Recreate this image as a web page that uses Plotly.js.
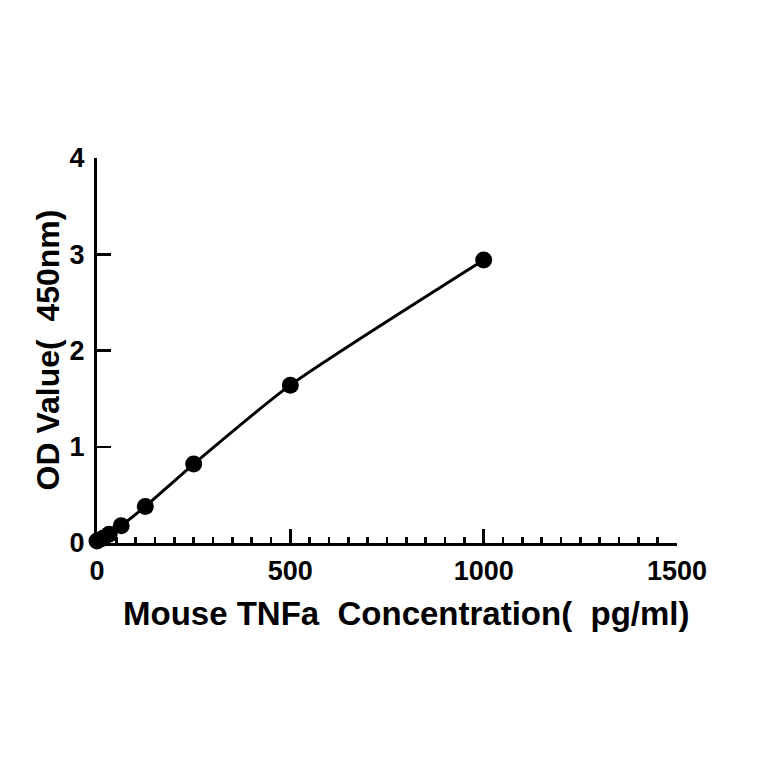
<!DOCTYPE html>
<html>
<head>
<meta charset="utf-8">
<script src="https://cdn.plot.ly/plotly-3.0.1.min.js"></script>
<style>html,body{margin:0;padding:0;background:#fff;}#chart{width:764px;height:764px;}</style>
</head>
<body>
<div id="chart"></div>
<script>
const concentration = [0, 15.6, 31.25, 62.5, 125, 250, 500, 1000];
const odValue = [0.02, 0.05, 0.09, 0.18, 0.38, 0.82, 1.64, 2.94];
const xTitle = "Mouse TNFa\u00a0 Concentration(\u00a0\u00a0pg/ml)";
const yTitle = "OD Value(\u00a0\u00a0450nm)";

const font = "'Liberation Sans', Arial, sans-serif";

const traces = [{
  x: concentration,
  y: odValue,
  type: 'scatter',
  mode: 'lines+markers',
  line: {color: '#000', width: 3, shape: 'spline', smoothing: 0.6},
  marker: {color: '#000', size: 17},
  cliponaxis: false,
  hoverinfo: 'skip'
}];

const layout = {
  width: 764, height: 764,
  margin: {l: 97, r: 87, t: 158, b: 221},
  paper_bgcolor: '#fff', plot_bgcolor: '#fff',
  showlegend: false,
  font: {family: font, color: '#000'},
  xaxis: {
    range: [0, 1500], dtick: 500, tick0: 0,
    showgrid: false, zeroline: false,
    showline: true, linecolor: '#000', linewidth: 3,
    ticks: 'inside', ticklen: 14, tickwidth: 2.5, tickcolor: '#000',
    minor: {dtick: 50, ticks: 'inside', ticklen: 6, tickwidth: 2.5, tickcolor: '#000', showgrid: false},
    tickfont: {size: 27, family: font, weight: 'bold'},
    ticklabelstandoff: 2
  },
  yaxis: {
    range: [0, 4], dtick: 1, tick0: 0,
    showgrid: false, zeroline: false,
    showline: true, linecolor: '#000', linewidth: 3,
    ticks: 'inside', ticklen: 14, tickwidth: 2.5, tickcolor: '#000',
    tickfont: {size: 27, family: font, weight: 'bold'},
    ticklabelstandoff: 4
  },
  annotations: [
    {
      text: '<b>' + xTitle + '</b>', showarrow: false,
      xref: 'paper', yref: 'paper', x: 0.533, y: 0,
      xanchor: 'center', yanchor: 'middle', yshift: -70,
      font: {size: 33, family: font, color: '#000'}
    },
    {
      text: '<b>' + yTitle + '</b>', showarrow: false, textangle: -90,
      xref: 'paper', yref: 'paper', x: 0, y: 0.5,
      xanchor: 'center', yanchor: 'middle', xshift: -50,
      font: {size: 32, family: font, color: '#000'}
    }
  ]
};

Plotly.newPlot('chart', traces, layout, {displayModeBar: false, staticPlot: true});
</script>
</body>
</html>
